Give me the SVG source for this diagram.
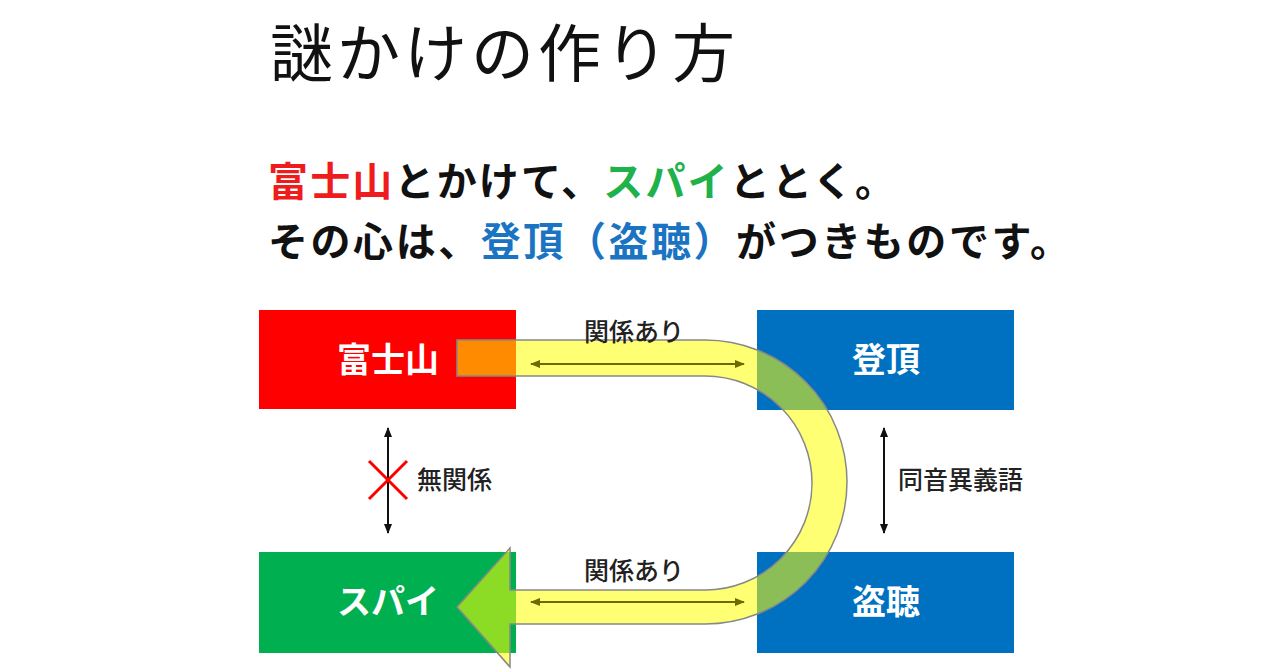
<svg xmlns="http://www.w3.org/2000/svg" width="1280" height="670" viewBox="0 0 1280 670">
<style>
text{font-family:"Noto Sans CJK JP","Noto Sans",sans-serif}
.t{font-size:63px;font-weight:400;fill:#111}
.l{font-size:40px;font-weight:bold;fill:#111}
.b{font-size:34px;font-weight:bold;fill:#fff;text-anchor:middle}
.s{font-size:25px;font-weight:500;fill:#222}
.a{stroke-width:2}
</style>
<defs>
<marker id="ma" viewBox="0 0 10 10" refX="9" refY="5" markerWidth="5" markerHeight="5" orient="auto-start-reverse"><path d="M0,1 L10,5 L0,9 Z" fill="context-stroke"/></marker>
</defs>
<rect width="1280" height="670" fill="#fff"/>
<text class="t" x="270" y="76" textLength="465" lengthAdjust="spacing">謎かけの作り方</text>
<text class="l" x="268" y="196" textLength="627" lengthAdjust="spacing"><tspan fill="#ee1c1c">富士山</tspan>とかけて、<tspan fill="#1fb14a">スパイ</tspan>ととく。</text>
<text class="l" x="268" y="256" textLength="802" lengthAdjust="spacing">その心は、<tspan fill="#1b74c2">登頂（盗聴）</tspan>がつきものです。</text>
<g id="n1"><rect x="259" y="310" width="257" height="99" fill="#ff0000"/><text class="b" x="388" y="372">富士山</text></g>
<g id="n2"><rect x="757" y="310" width="257" height="100" fill="#0070c0"/><text class="b" x="886" y="372">登頂</text></g>
<g id="n3"><rect x="259" y="552" width="257" height="101" fill="#00b050"/><text class="b" x="388" y="614">スパイ</text></g>
<g id="n4"><rect x="757" y="552" width="257" height="101" fill="#0070c0"/><text class="b" x="886" y="614">盗聴</text></g>
<g id="connectors">
<path d="M457,340 H705 A142,142 0 0 1 705,624 H510 V667 L457,607 L510,548 V590 H705 A107,107 0 0 0 705,376 H457 Z" fill="#ffff00" fill-opacity="0.55" stroke="#888" stroke-width="1.5"/>
<line x1="531" y1="364" x2="744" y2="364" stroke="#6b6b00" class="a" marker-start="url(#ma)" marker-end="url(#ma)"/>
<line x1="531" y1="602" x2="744" y2="602" stroke="#6b6b00" class="a" marker-start="url(#ma)" marker-end="url(#ma)"/>
<line x1="388" y1="428" x2="388" y2="533" stroke="#111" class="a" marker-start="url(#ma)" marker-end="url(#ma)"/>
<line x1="884" y1="428" x2="884" y2="533" stroke="#111" class="a" marker-start="url(#ma)" marker-end="url(#ma)"/>
<path d="M369,461 L407,499 M407,461 L369,499" stroke="#ff0000" stroke-width="3"/>
</g>
<text class="s" x="634" y="341" text-anchor="middle">関係あり</text>
<text class="s" x="634" y="580" text-anchor="middle">関係あり</text>
<text class="s" x="417" y="489">無関係</text>
<text class="s" x="898" y="489">同音異義語</text>
</svg>
